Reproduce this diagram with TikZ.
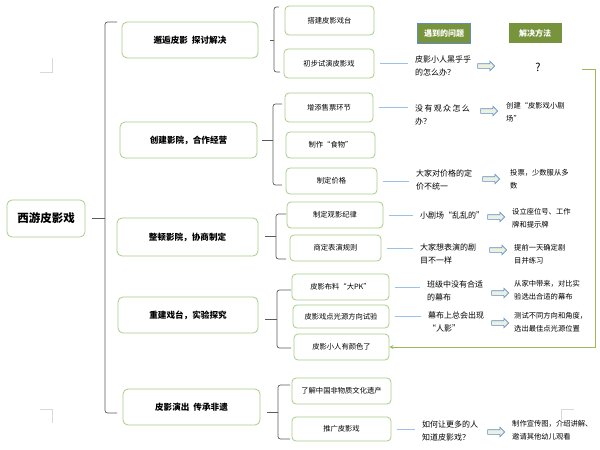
\documentclass[tikz,border=0pt]{standalone}
\usepackage{fontspec}
\setmainfont{Noto Sans CJK SC}
\usepackage{tikz}
\usetikzlibrary{shapes, arrows, positioning, calc}

\definecolor{boxgreen}{RGB}{165,204,135}
\definecolor{headgreen}{RGB}{119,147,60}
\definecolor{lineblue}{RGB}{155,194,230}
\definecolor{arrowblue}{RGB}{95,140,200}
\definecolor{arrowfill}{RGB}{235,241,222}
\definecolor{retgreen}{RGB}{155,187,89}
\definecolor{brkgray}{RGB}{90,90,90}

\begin{document}
\begin{tikzpicture}[
  x=1pt, y=-1pt,
  root/.style   = {draw=boxgreen, rounded corners=5pt, line width=0.8pt,
                   minimum width=78pt, minimum height=37pt, inner sep=0pt,
                   font=\fontsize{11.5}{14}\selectfont\bfseries},
  stage/.style  = {draw=boxgreen, rounded corners=5pt, line width=0.8pt,
                   minimum height=36pt, inner sep=0pt,
                   font=\fontsize{8.6}{10}\selectfont\bfseries},
  task/.style   = {draw=boxgreen, rounded corners=4pt, line width=0.8pt,
                   minimum height=26pt, inner sep=0pt,
                   font=\fontsize{7.3}{9}\selectfont},
  head/.style   = {fill=headgreen, text=white, minimum width=53pt,
                   minimum height=20pt, inner sep=0pt,
                   font=\fontsize{8}{10}\selectfont\bfseries},
  ques/.style   = {anchor=west, align=left, inner sep=0pt,
                   font=\fontsize{8}{13}\selectfont},
  sol/.style    = {anchor=west, align=left, inner sep=0pt,
                   font=\fontsize{7.3}{13}\selectfont},
  hollow/.style = {single arrow, draw=arrowblue, fill=arrowfill,
                   line width=0.6pt, minimum height=17pt, minimum width=9pt,
                   single arrow head extend=2.5pt, inner xsep=0pt,
                   inner ysep=2pt},
  lnk/.style    = {draw=lineblue, line width=0.8pt,
                   shorten <=6pt, shorten >=7pt},
  brk/.style    = {draw=brkgray, line width=0.7pt, rounded corners=2.5pt},
  ret/.style    = {->, >=stealth, draw=retgreen, line width=0.8pt},
  cropmk/.style = {draw=gray!30, line width=0.6pt},
]
\useasboundingbox (0,0) rectangle (600,450);

%% Page marks
\draw[cropmk] (40,72) -- (52,72) -- (52,58);
\draw[cropmk] (40,409) -- (52,409) -- (52,423);
\draw[cropmk] (574,409) -- (561,409) -- (561,420);

%% Root
\node[root] (root) at (46,218.5) {西游皮影戏};

%% Stages
\node[stage, minimum width=136pt] (p1) at (190,40)    {邂逅皮影\ \ 探讨解决};
\node[stage, minimum width=137pt] (p2) at (188.5,140) {创建影院，合作经营};
\node[stage, minimum width=141pt, minimum height=38pt]
                                  (p3) at (187.5,237) {整顿影院，协商制定};
\node[stage, minimum width=140pt] (p4) at (188,315)   {重建戏台，实验探究};
\node[stage, minimum width=137pt] (p5) at (191.5,407) {皮影演出\ \ 传承非遗};

\draw[brk] (117,22) -| (105,413) -- (117,413);
\draw[brk] (root.east) ++(7,0) -- (105,218.5);

%% Tasks
\node[task, minimum width=89pt, minimum height=29pt] (c11) at (329.5,20.5) {搭建皮影戏台};
\node[task, minimum width=90pt, minimum height=29pt] (c12) at (329,63.5)   {初步试演皮影戏};
\node[task, minimum width=88pt, minimum height=29pt] (c21) at (329,107.5)  {增添售票环节};
\node[task, minimum width=89pt] (c22) at (330.5,145)  {制作“食物”};
\node[task, minimum width=91pt] (c23) at (331.5,181)  {制定价格};
\node[task, minimum width=96pt] (c31) at (335,215)    {制定观影纪律};
\node[task, minimum width=91pt] (c32) at (335.5,248)  {商定表演规则};
\node[task, minimum width=97pt] (c41) at (340.5,287)  {皮影布料“大PK”};
\node[task, minimum width=96pt, minimum height=23pt] (c42) at (341,316.5) {皮影戏点光源方向试验};
\node[task, minimum width=95pt] (c43) at (341.5,347)  {皮影小人有颜色了};
\node[task, minimum width=99pt] (c51) at (341.5,391)  {了解中国非物质文化遗产};
\node[task, minimum width=99pt, minimum height=24pt] (c52) at (341.5,429) {推广皮影戏};

\draw[brk] (279,7) -| (274,72) -- (280,72);
\draw[brk] (270,40) -- (274,40);
\draw[brk] (282,104) -| (273,185) -- (282,185);
\draw[brk] (p2.east) ++(5,0) -- (273,140);
\draw[brk] (286,214) -| (276,259) -- (286,259);
\draw[brk] (265,236.5) -- (276,236.5);
\draw[brk] (291,290) -| (277,348) -- (291,348);
\draw[brk] (265,319) -- (277,319);
\draw[brk] (290,385) -| (278,439) -- (290,439);
\draw[brk] (267,412) -- (278,412);

%% Column heads
\node[head, draw=arrowblue, line width=0.6pt] (hq) at (444,33) {遇到的问题};
\node[head] (hs) at (535,33) {解决方法};

%% Problems
\node[ques] (q1) at (415,66)  {皮影小人黑乎乎\\的怎么办？};
\node[ques] (q2) at (415,115) {没\,有\,观\,众\,怎\,么\\办？};
\node[ques] (q3) at (416,180) {大家对价格的定\\价不统一};
\node[ques] (q4) at (420,215) {小剧场“乱乱的”};
\node[ques] (q5) at (420,254) {大家想表演的剧\\目不一样};
\node[ques] (q6) at (427,291) {班级中没有合适\\的幕布};
\node[ques] (q7) at (428,322) {幕布上总会出现\\“人影”};
\node[ques] (q8) at (422,431) {如何让更多的人\\知道皮影戏？};

\draw[lnk] (c12.east) -- (c12.east -| q1.west);
\draw[lnk] (c21.east) -- (c21.east -| q2.west);
\draw[lnk] (c23.east) -- (c23.east -| q3.west);
\draw[lnk] (c31.east) -- (c31.east -| q4.west);
\draw[lnk] (c32.east) -- (c32.east -| q5.west);
\draw[lnk] (c41.east) -- (c41.east -| q6.west);
\draw[lnk] (c42.east) -- (c42.east -| q7.west);
\draw[lnk] (c52.east) -- (c52.east -| q8.west);

%% Solutions
\node[font=\fontsize{11}{13}\selectfont, inner sep=0pt] (s1) at (538,67) {?};
\node[sol] (s2) at (506,112) {创建“皮影戏小剧\\场”};
\node[sol] (s3) at (510,179) {投票，少数服从多\\数};
\node[sol] (s4) at (512,218) {设立座位号、工作\\牌和提示牌};
\node[sol] (s5) at (514,254) {提前一天确定剧\\目并练习};
\node[sol] (s6) at (514,290) {从家中带来，对比实\\验选出合适的幕布};
\node[sol] (s7) at (514,322) {测试不同方向和角度，\\选出最佳点光源位置};
\node[sol] (s8) at (512,430) {制作宣传图，介绍讲解、\\邀请其他幼儿观看};

%% Hollow arrows
\node[hollow] (h1) at (485,66)  {};
\node[hollow] (h2) at (488,111) {};
\node[hollow] (h3) at (490,179) {};
\node[hollow] (h4) at (495,217) {};
\node[hollow] (h5) at (497,250) {};
\node[hollow] (h6) at (499,293) {};
\node[hollow] (h7) at (499,323) {};
\node[hollow] (h8) at (495,432) {};

%% Return to colour step
\coordinate (rt) at (582,69);
\draw[ret] (rt) -- ++(13,0) |- (c43.east);

\end{tikzpicture}
\end{document}
